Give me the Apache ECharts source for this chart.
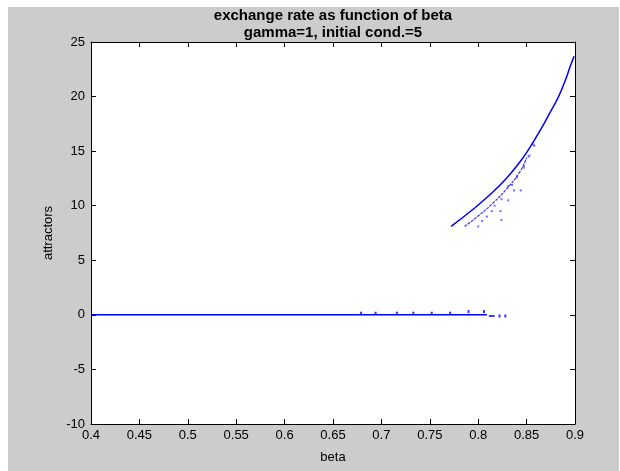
<!DOCTYPE html>
<html>
<head>
<meta charset="utf-8">
<script src="https://cdn.jsdelivr.net/npm/echarts@6/dist/echarts.min.js"></script>
<style>
html,body{margin:0;padding:0;background:#ffffff;}
#chart{width:620px;height:471px;}
</style>
</head>
<body>
<div id="chart"></div>
<script>
// ---- data ----
var titleLines = ["exchange rate as function of beta", "gamma=1, initial cond.=5"];
var xName = "beta";
var yName = "attractors";
var xRange = [0.4, 0.9];
var yRange = [-10, 25];
var xStep = 0.05;
var yStep = 5;

// y = 0 branch (continuous part)
var zeroLine = [[0.4, 0], [0.809, 0]];
var zeroDash = [[0.811, -0.1], [0.817, -0.1]];
var zeroDots = [[0.679, 0.15], [0.694, 0.15], [0.716, 0.15], [0.733, 0.15], [0.752, 0.15],
                [0.771, 0.15], [0.790, 0.3], [0.806, 0.3], [0.822, -0.1], [0.828, -0.1]];

// upper attractor, main branch
var mainBranch = [[0.772, 8.1], [0.795, 9.7], [0.812, 11.0], [0.829, 12.5], [0.843, 14.0],
                  [0.851, 15.0], [0.864, 16.9], [0.874, 18.5], [0.883, 20.0], [0.890, 21.5],
                  [0.895, 22.75], [0.899, 23.7]];
// second branch
var secondBranch = [[0.786, 8.1], [0.802, 9.2], [0.816, 10.3], [0.829, 11.5], [0.843, 13.1], [0.850, 14.4]];
// third branch / scattered points
var thirdDots = [[0.800, 8.1], [0.804, 8.6], [0.809, 9.0], [0.814, 9.5], [0.817, 10.0], [0.824, 10.6],
                 [0.831, 11.8], [0.835, 11.9], [0.840, 12.7], [0.847, 13.6], [0.852, 14.5], [0.857, 15.6],
                 [0.824, 8.7], [0.823, 9.5], [0.831, 10.5], [0.837, 11.4], [0.844, 11.4], [0.840, 12.6],
                 [0.847, 13.5], [0.853, 14.6], [0.858, 15.5]];

var FONT = "'Liberation Sans', Arial, sans-serif";
var BLUE = "#0000ff";

var chart = echarts.init(document.getElementById('chart'), null, {renderer: 'canvas'});
var axisCommon = {
  type: 'value',
  axisLine: {show: true, onZero: false, lineStyle: {color: '#000', width: 1}},
  axisTick: {show: true, inside: true, length: 5, lineStyle: {color: '#000'}},
  splitLine: {show: false}
};
chart.setOption({
  backgroundColor: '#cccccc',
  animation: false,
  grid: {left: 91, right: 45, top: 42, bottom: 47, show: true, backgroundColor: '#ffffff', borderWidth: 0},
  graphic: [
    {type: 'rect', shape: {x: 0, y: 0, width: 8, height: 471}, style: {fill: '#ffffff'}, silent: true},
    {type: 'rect', shape: {x: 0, y: 0, width: 620, height: 7}, style: {fill: '#ffffff'}, silent: true},
    {type: 'rect', shape: {x: 619, y: 0, width: 1, height: 471}, style: {fill: '#ffffff'}, silent: true},
    {type: 'text', x: 333, y: 15.5, style: {text: titleLines[0], font: 'bold 15px ' + FONT, fill: '#000', align: 'center', verticalAlign: 'middle'}},
    {type: 'text', x: 333, y: 33, style: {text: titleLines[1], font: 'bold 15px ' + FONT, fill: '#000', align: 'center', verticalAlign: 'middle'}}
  ],
  xAxis: [
    Object.assign({}, axisCommon, {
      position: 'bottom', min: xRange[0], max: xRange[1], interval: xStep,
      name: xName, nameLocation: 'middle', nameGap: 27,
      nameTextStyle: {fontFamily: FONT, fontSize: 13, color: '#000'},
      axisLabel: {show: true, margin: 5, fontFamily: FONT, fontSize: 13, color: '#000'}
    }),
    Object.assign({}, axisCommon, {
      position: 'top', min: xRange[0], max: xRange[1], interval: xStep,
      axisLabel: {show: false}
    })
  ],
  yAxis: [
    Object.assign({}, axisCommon, {
      position: 'left', min: yRange[0], max: yRange[1], interval: yStep,
      name: yName, nameLocation: 'middle', nameGap: 31, nameRotate: 90,
      nameTextStyle: {fontFamily: FONT, fontSize: 13, color: '#000'},
      axisLabel: {show: true, margin: 6, fontFamily: FONT, fontSize: 13, color: '#000'}
    }),
    Object.assign({}, axisCommon, {
      position: 'right', min: yRange[0], max: yRange[1], interval: yStep,
      axisLabel: {show: false}
    })
  ],
  series: [
    {type: 'line', data: zeroLine, symbol: 'none', lineStyle: {color: BLUE, width: 1.5}, silent: true},
    {type: 'line', data: zeroDash, symbol: 'none', lineStyle: {color: BLUE, width: 1.5}, silent: true},
    {type: 'scatter', data: zeroDots, symbol: 'rect', symbolSize: [2, 3], itemStyle: {color: BLUE}, silent: true},
    {type: 'line', data: mainBranch, smooth: true, symbol: 'none', lineStyle: {color: BLUE, width: 1.5}, silent: true},
    {type: 'line', data: secondBranch, smooth: true, symbol: 'none', lineStyle: {color: '#3333ff', width: 1.2, type: [3, 1]}, silent: true},
    {type: 'scatter', data: thirdDots, symbol: 'rect', symbolSize: 2, itemStyle: {color: '#4d4dff'}, silent: true}
  ]
});
</script>
</body>
</html>
